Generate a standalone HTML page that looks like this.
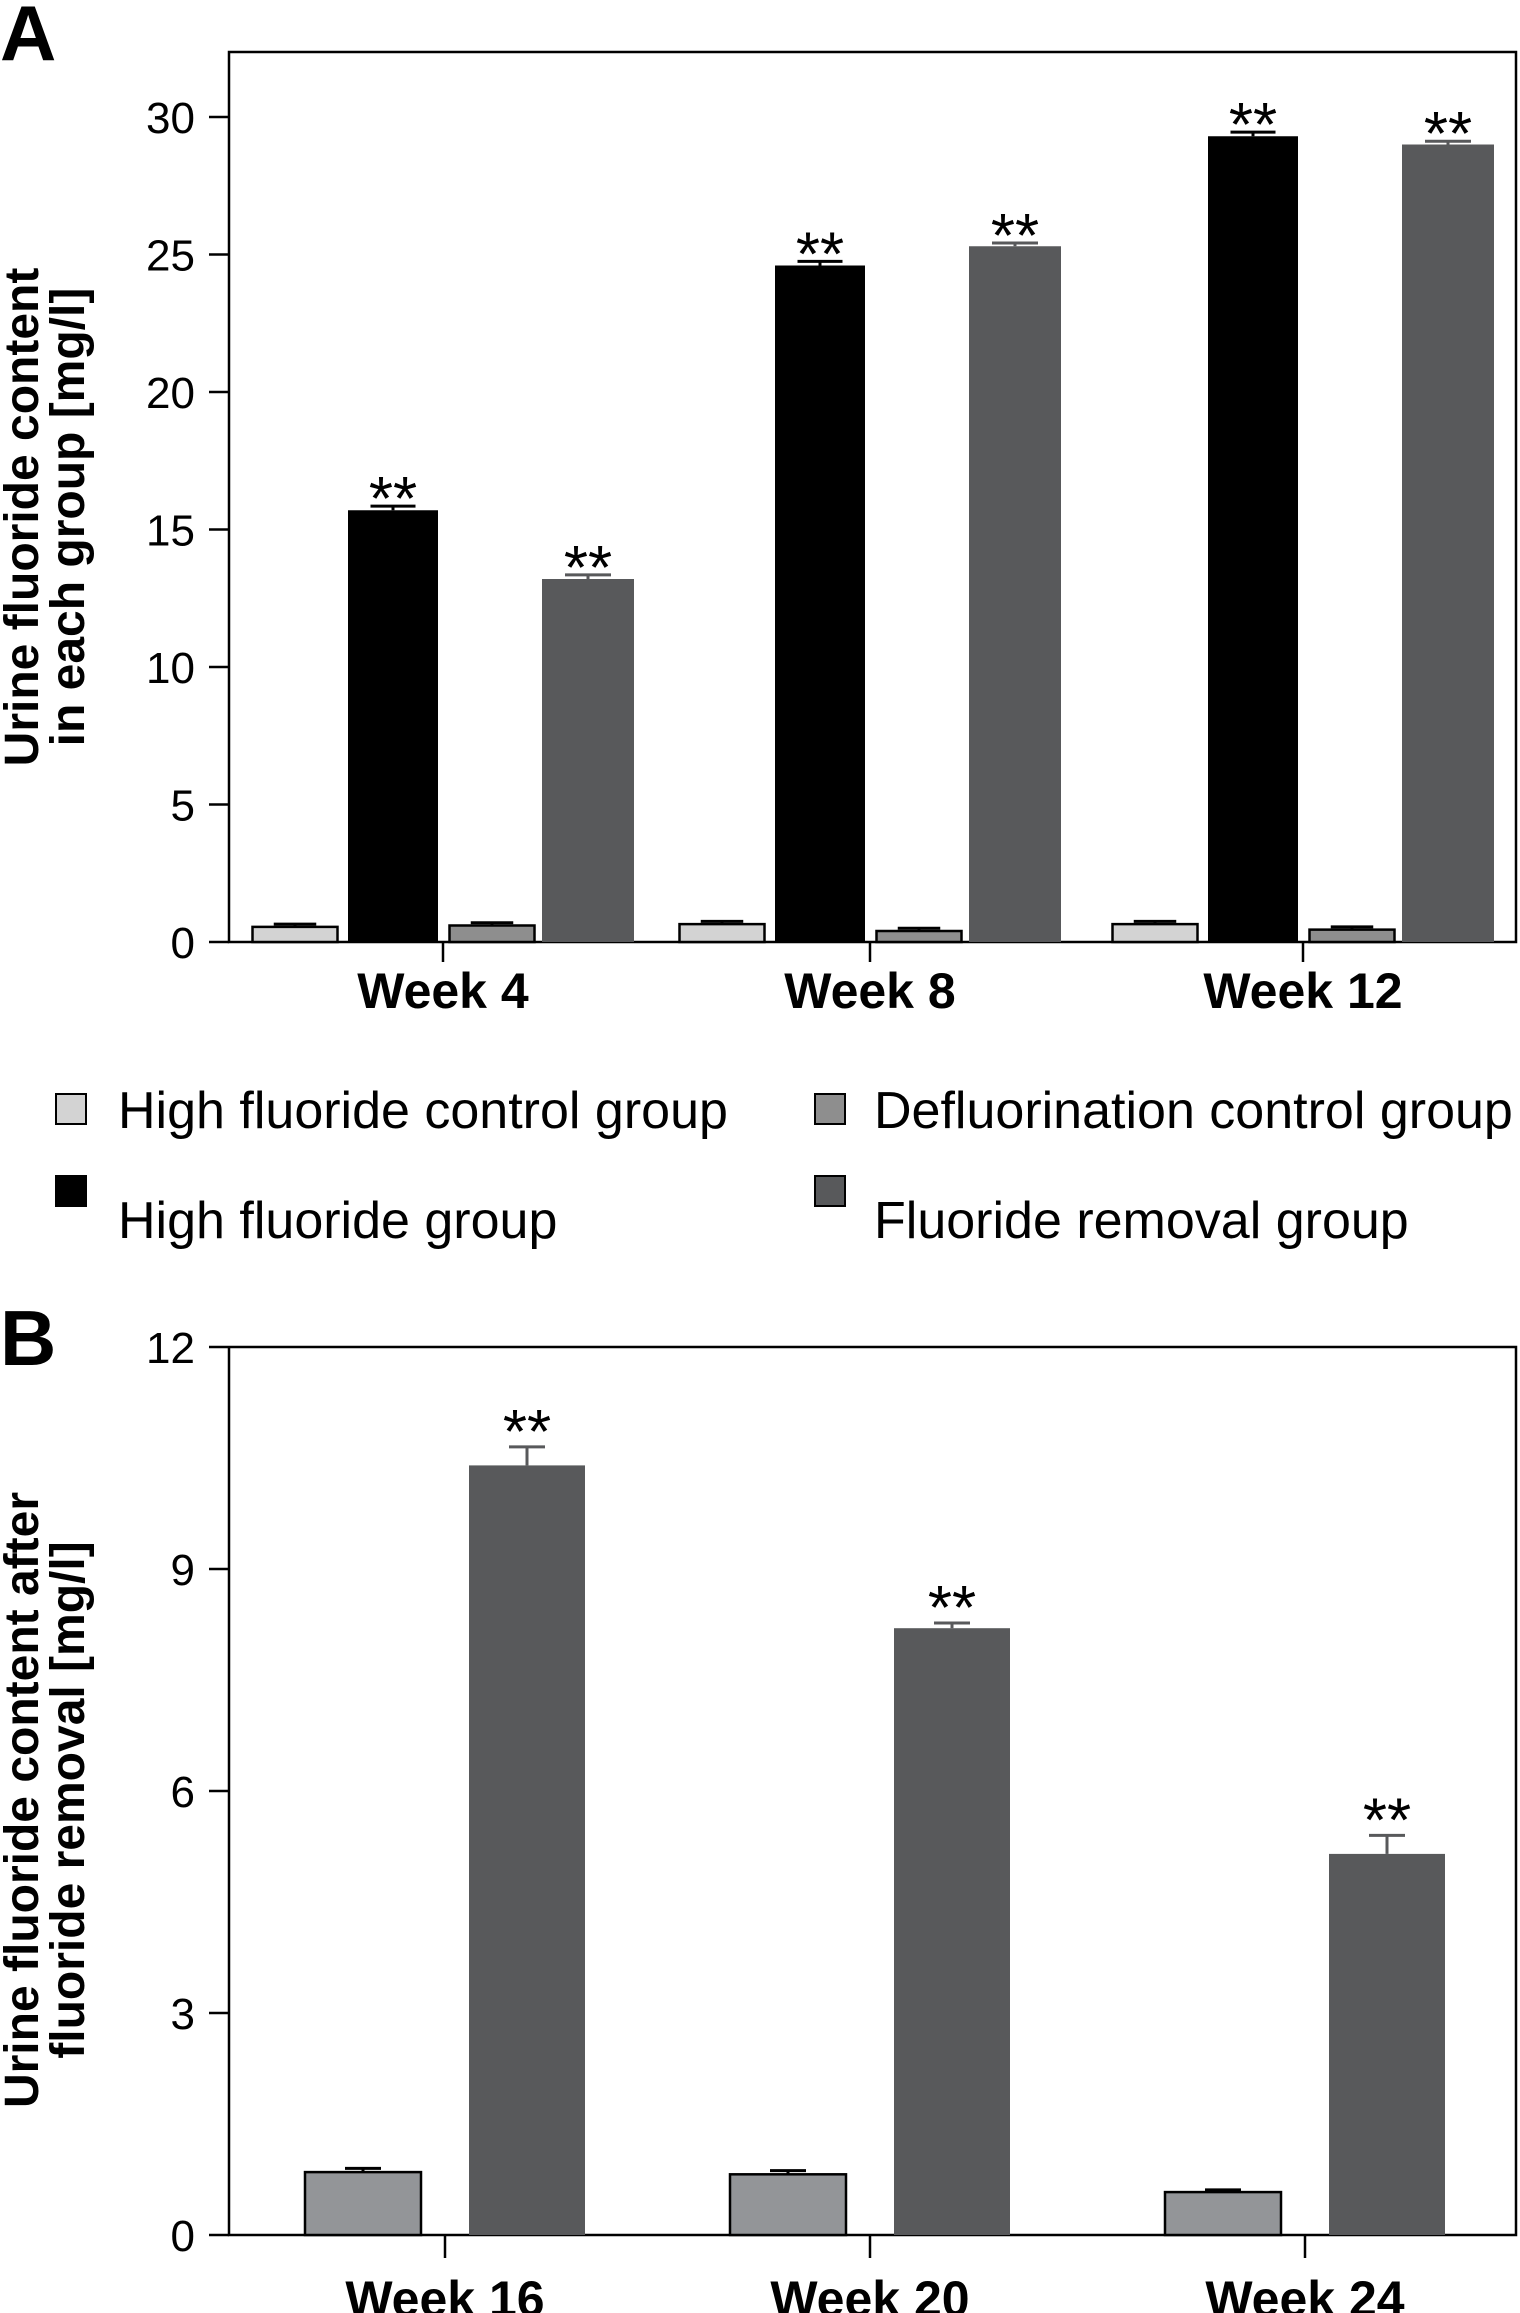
<!DOCTYPE html>
<html><head><meta charset="utf-8"><style>html,body{margin:0;padding:0;background:#fff}svg{display:block}text{font-family:"Liberation Sans",sans-serif}</style></head>
<body>
<svg id="c" width="1520" height="2313" viewBox="0 0 1520 2313" xmlns="http://www.w3.org/2000/svg"></svg>
<script>
const catsA=["Week 4","Week 8","Week 12"];
const hfControl=[0.55,0.65,0.65];
const highF=[15.7,24.6,29.3];
const defControl=[0.6,0.4,0.45];
const fRemoval=[13.2,25.3,29.0];
const errA=[[0.1,0.15,0.1,0.15],[0.1,0.15,0.1,0.12],[0.1,0.15,0.1,0.12]];
const ticksA=[0,5,10,15,20,25,30];
const catsB=["Week 16","Week 20","Week 24"];
const ctrlB=[0.85,0.82,0.58];
const removalB=[10.4,8.2,5.15];
const errB1=[0.05,0.05,0.03];
const errB2=[0.25,0.07,0.25];
const ticksB=[0,3,6,9,12];
const NS="http://www.w3.org/2000/svg",svg=document.getElementById('c');
function mk(t,a,txt){const e=document.createElementNS(NS,t);for(const k in a)e.setAttribute(k,a[k]);if(txt!==undefined)e.textContent=txt;svg.appendChild(e);return e;}
// Panel A
const yA=v=>942-v*27.5, xL=229, xR=1516;
const gA=[443,870,1303], offA=[-148,-50,49,145], wA=[85,90,85,92];
let e=mk('text',{x:0,y:60,'font-size':78,'font-weight':'bold'},'A');
e=mk('rect',{x:xL,y:52,width:xR-xL,height:890,fill:'none',stroke:'#000','stroke-width':2.5});
ticksA.forEach(t=>{mk('line',{x1:209,x2:xL,y1:yA(t),y2:yA(t),stroke:'#000','stroke-width':2.5});
 e=mk('text',{x:195,y:yA(t)+16,'font-size':44,'text-anchor':'end'},t);});
const seriesA=[hfControl,highF,defControl,fRemoval],fills=['#d3d3d3','#000','#8e8e8e','#58595b'],outl=[true,false,true,false];
catsA.forEach((c,i)=>{
 mk('line',{x1:gA[i],x2:gA[i],y1:942,y2:962,stroke:'#000','stroke-width':2.5});
 e=mk('text',{x:gA[i],y:1008,'font-size':50,'font-weight':'bold','text-anchor':'middle'},c);
 seriesA.forEach((s,j)=>{const cx=gA[i]+offA[j],w=wA[j],v=s[i],er=errA[i][j];
  mk('line',{x1:cx,x2:cx,y1:yA(v+er),y2:yA(v),stroke:outl[j]?'#000':fills[j],'stroke-width':3});
  mk('line',{x1:cx-w*0.25,x2:cx+w*0.25,y1:yA(v+er),y2:yA(v+er),stroke:outl[j]?'#000':fills[j],'stroke-width':3});
  e=mk('rect',{x:cx-w/2,y:yA(v),width:w,height:942-yA(v),fill:fills[j],stroke:outl[j]?'#000':'none','stroke-width':2.5});
  if(v>5){e=mk('text',{x:cx,y:yA(v+er)+14,'font-size':62,'text-anchor':'middle'},'**');}
 });
});
e=mk('text',{transform:'translate(38,517) rotate(-90)','font-size':48,'font-weight':'bold','text-anchor':'middle'},'Urine fluoride content');
mk('text',{transform:'translate(84,517) rotate(-90)','font-size':48,'font-weight':'bold','text-anchor':'middle'},'in each group [mg/l]');
// Legend
const leg=[["High fluoride control group",56,1110,'#d3d3d3',118,1110],["Defluorination control group",815,1110,'#8e8e8e',874,1110],["High fluoride group",56,1192,'#000',118,1220],["Fluoride removal group",815,1192,'#58595b',874,1220]];
leg.forEach(l=>{e=mk('rect',{x:l[1],y:l[2]-16,width:30,height:30,fill:l[3],stroke:'#000','stroke-width':2});
 e=mk('text',{x:l[4],y:l[5]+18,'font-size':52},l[0]);});
// Panel B
const yB=v=>2235-v*74;
e=mk('text',{x:0,y:1365,'font-size':78,'font-weight':'bold'},'B');
e=mk('polyline',{points:`${xL},${yB(12)} ${xR},${yB(12)} ${xR},2235 ${xL},2235 ${xL},${yB(12)}`,fill:'none',stroke:'#000','stroke-width':2.5});
ticksB.forEach(t=>{mk('line',{x1:209,x2:xL,y1:yB(t),y2:yB(t),stroke:'#000','stroke-width':2.5});
 e=mk('text',{x:195,y:yB(t)+16,'font-size':44,'text-anchor':'end'},t);});
const gB=[445,870,1305];
catsB.forEach((c,i)=>{
 mk('line',{x1:gB[i],x2:gB[i],y1:2235,y2:2258,stroke:'#000','stroke-width':2.5});
 e=mk('text',{x:gB[i],y:2316,'font-size':50,'font-weight':'bold','text-anchor':'middle'},c);
 [[ctrlB,errB1,'#939598',-82,true],[removalB,errB2,'#58595b',82,false]].forEach(([s,er,f,o,ol])=>{
  const cx=gB[i]+o,w=116,v=s[i];
  mk('line',{x1:cx,x2:cx,y1:yB(v+er[i]),y2:yB(v),stroke:ol?'#000':f,'stroke-width':3});
  mk('line',{x1:cx-18,x2:cx+18,y1:yB(v+er[i]),y2:yB(v+er[i]),stroke:ol?'#000':f,'stroke-width':3});
  e=mk('rect',{x:cx-w/2,y:yB(v),width:w,height:2235-yB(v),fill:f,stroke:ol?'#000':'none','stroke-width':2.5});
  if(!ol){e=mk('text',{x:cx,y:yB(v+er[i])+6,'font-size':62,'text-anchor':'middle'},'**');}
 });
});
e=mk('text',{transform:'translate(38,1800) rotate(-90)','font-size':48,'font-weight':'bold','text-anchor':'middle'},'Urine fluoride content after');
mk('text',{transform:'translate(84,1800) rotate(-90)','font-size':48,'font-weight':'bold','text-anchor':'middle'},'fluoride removal [mg/l]');
</script>
</body></html>
